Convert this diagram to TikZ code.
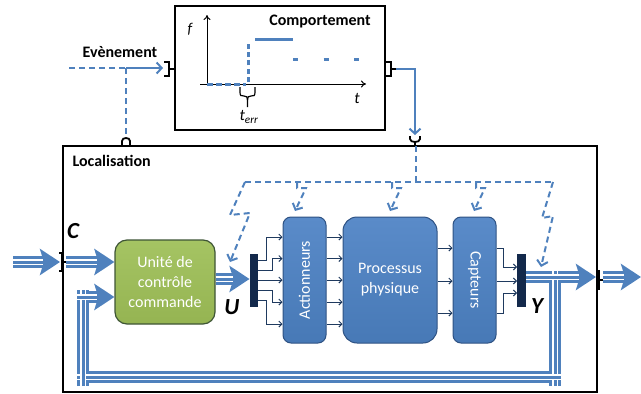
\documentclass[tikz,border=0pt]{standalone}
\usepackage{fontspec}
\setmainfont{Carlito}
\usetikzlibrary{arrows.meta,calc}
\definecolor{lb}{HTML}{4F81BD}
\definecolor{lbtop}{HTML}{5A8BC9}
\definecolor{lbbot}{HTML}{4779B6}
\definecolor{bbord}{HTML}{2E5283}
\definecolor{gtop}{HTML}{A5C463}
\definecolor{gbot}{HTML}{95B452}
\definecolor{gbord}{HTML}{3E5535}
\definecolor{navy}{HTML}{13294B}
\definecolor{thinc}{HTML}{1F3A5F}
\begin{document}
\begin{tikzpicture}[x=1pt,y=-1pt,
  frame/.style={draw=black, line width=1.5pt},
  bbox/.style={draw=bbord, line width=1pt, top color=lbtop, bottom color=lbbot, text=white,
     font=\fontsize{16}{20}\selectfont, align=center, inner sep=0pt},
  gbox/.style={draw=gbord, line width=1.2pt, top color=gtop, bottom color=gbot, text=white,
     font=\fontsize{16}{20}\selectfont, align=center, rounded corners=12pt,
     minimum width=100pt, minimum height=84pt, inner sep=0pt},
  bar/.style={fill=navy, draw=none, minimum width=8.5pt, minimum height=53pt, inner sep=0pt},
  tri/.style={draw=lb, line width=12pt},
  triw/.style={draw=white, line width=1.5pt, double=lb, double distance=3pt},
  trih/.style={-{Stealth[length=20pt,width=26pt,inset=4pt]}},
  dsh/.style={draw=lb, line width=2pt, dash pattern=on 6pt off 4pt},
  va/.style={-{Straight Barb[length=5pt,width=11pt]}},
  thinar/.style={draw=thinc, line width=1pt, -{Straight Barb[length=3pt,width=6pt]}},
  port/.style={draw=black, line width=1.8pt},
  lbl/.style={font=\bfseries\fontsize{16}{19}\selectfont},
  big/.style={font=\bfseries\itshape\fontsize{23}{26}\selectfont},
  gr/.style={draw=lb, line width=3pt}
]
\useasboundingbox (0,0) rectangle (641,394);

% ---------------- frames ----------------
\node[frame, minimum width=210pt, minimum height=124pt, inner sep=0pt] (comp) at (280,68) {};
\node[frame, minimum width=534pt, minimum height=246pt, inner sep=0pt] (loc) at (330,269) {};
\node[lbl] (comptxt) at (320,22) {Comportement};
\node[lbl] (evt) at (120,52) {Evènement};
\node[lbl, anchor=west] (loctxt) at (69,161) {Localisation};

% ---------------- graph ----------------
\coordinate (o) at (207,84);
\coordinate (xend) at (366,84);
\coordinate (yend) at (207,15);
\draw[line width=1pt, -{To[length=5pt,width=7pt]}] (200,84) -- (xend);
\draw[line width=1pt, -{To[length=5pt,width=7pt]}] (207,86) -- (yend);
\node[font=\itshape\fontsize{15}{18}\selectfont] (flab) at (190,29) {f};
\node[font=\itshape\fontsize{16}{18}\selectfont] (tlab) at (357,98) {t};
\draw[gr, dash pattern=on 6pt off 3pt] (207,84) -- (246,84);
\draw[gr, dash pattern=on 5pt off 3.3pt] (248.5,82) -- (248.5,42);
\draw[gr] (255,39) -- (293,39);
\draw[gr, dash pattern=on 5pt off 25.5pt] (293,59) -- (362,59);
\draw[line width=1.2pt] (240,87) -- (240,92) .. controls (240,96) and (241,96) .. (244,96)
   .. controls (247,96) and (247.5,97) .. (247.5,100) -- (247.5,107);
\draw[line width=1.2pt] (255,87) -- (255,92) .. controls (255,96) and (254,96) .. (251,96)
   .. controls (248,96) and (247.5,97) .. (247.5,100);
\node[font=\itshape\fontsize{16}{18}\selectfont] (terr) at (249,117) {t\textsubscript{err}};

% ---------------- Evènement input ----------------
\coordinate (evs) at (69,68);
\coordinate (evj) at (126,68);
\coordinate (evt1) at (163,68);
\coordinate (lpt) at (126,137);
\draw[dsh] (evs) -- (evj);
\draw[draw=lb, line width=2pt, va] (evj) -- (evt1);
\draw[dsh] (evj) -- (lpt);
\draw[port] (164,62) -- (169,62) -- (169,76) -- (164,76);
\draw[port] (169,69) -- (comp.west |- 0,69);
\draw[port] (122,146) -- (122,141) .. controls (122,137) and (130,137) .. (130,141) -- (130,146);

% ---------------- Comportement output ----------------
\draw[port] (comp.east |- 0,62) -- (391,62) -- (391,76) -- (comp.east |- 0,76);
\draw[port] (391,69) -- (396,69);
\coordinate (cr1) at (396,69);
\coordinate (cr2) at (415,69);
\coordinate (cr3) at (415,135);
\draw[draw=lb, line width=2pt, va] (cr1) -- (cr2) -- (cr3);
\draw[port] (410,136) -- (410,139) .. controls (410,143) and (420,143) .. (420,139) -- (420,136);
\draw[port] (415,142) -- (415,146);

% ---------------- blocks ----------------
\node[gbox] (ucc) at (165,282) {Unité de\\contrôle\\commande};
\node[bbox, rounded corners=8pt, minimum width=43pt, minimum height=126pt] (act) at (304.5,280) {\rotatebox{90}{Actionneurs}};
\node[bbox, rounded corners=14pt, minimum width=94pt, minimum height=126pt] (proc) at (390,280) {Processus\\physique};
\node[bbox, rounded corners=8pt, minimum width=43pt, minimum height=126pt] (capt) at (474.5,280) {\rotatebox{-90}{Capteurs}};
\node[bar] (ubar) at (254,280.5) {};
\node[bar] (ybar) at (521.5,280.5) {};
\node[big] (clab) at (73,231) {C};
\node[big] (ulab) at (232,307) {U};
\node[big] (ylab) at (537,306) {Y};

% ---------------- thin arrows ----------------
\draw[thinar] (ubar.east |- 0,260) -| (266,237) -- (act.west |- 0,237);
\draw[thinar] (ubar.east |- 0,270) -| (272,258.5) -- (act.west |- 0,258.5);
\draw[thinar] (ubar.east |- 0,280) -- (act.west |- 0,280);
\draw[thinar] (ubar.east |- 0,290) -| (272,302) -- (act.west |- 0,302);
\draw[thinar] (ubar.east |- 0,300) -| (266,324) -- (act.west |- 0,324);
\foreach \yy in {237,258.5,280,302,324}{
  \draw[thinar] (act.east |- 0,\yy) -- (proc.west |- 0,\yy);
}
\foreach \yy in {248,281,313}{
  \draw[thinar] (proc.east |- 0,\yy) -- (capt.west |- 0,\yy);
}
\draw[thinar] (capt.east |- 0,248) -| (503,267) -- (ybar.west |- 0,267);
\draw[thinar] (capt.east |- 0,281) -- (ybar.west |- 0,281);
\draw[thinar] (capt.east |- 0,313) -| (503,293) -- (ybar.west |- 0,293);

% ---------------- disturbance dashed arrows ----------------
\coordinate (dtop) at (416,146);
\coordinate (dj) at (416,182);
\coordinate (dl) at (245,182);
\coordinate (dr) at (553,182);
\draw[dsh] (dtop) -- (dj);
\draw[dsh] (dl) -- (dr);
\draw[dsh, va] (dl) -- (230,215) -- (250,213) -- (230,262);
\foreach \xx in {297,392,476}{
  \draw[dsh, va] (\xx,182) -- (\xx,188) -- (\xx+9,188) -- (\xx-2,211);
}
\draw[dsh, va] (dr) -- (542,218) -- (553,216) -- (541,267);

% ---------------- triple arrows ----------------
\coordinate (cin0) at (13,262);
\coordinate (cin1) at (60,262);
\coordinate (cin2) at (66,262);
\coordinate (uin) at (ucc.west |- 0,262);
\coordinate (uo0) at (ucc.east |- 0,279);
\coordinate (uo1) at (ubar.west |- 0,279);
\coordinate (yo0) at (ybar.east |- 0,277);
\coordinate (yo1) at (596,277);
\coordinate (yo2) at (603,277);
\coordinate (yo3) at (641,277);
\coordinate (f1) at (555,271);
\coordinate (f2) at (555,386);
\coordinate (f3) at (561,377);
\coordinate (f4) at (77,377);
\coordinate (f5) at (83,386);
\coordinate (f6) at (83,290);
\coordinate (f7) at (77,297);
\coordinate (f8) at (ucc.west |- 0,297);
% bases
\draw[tri] (f1) -- (f2);
\draw[tri] (f3) -- (f4);
\draw[tri] (f5) -- (f6);
\draw[tri,trih] (f7) -- (f8);
\draw[tri,trih] (cin0) -- (cin1);
\draw[tri,trih] (cin2) -- (uin);
\draw[tri,trih] (uo0) -- (uo1);
\draw[tri,trih] (yo0) -- (yo1);
\draw[tri,trih] (yo2) -- (yo3);
% overlays
\draw[triw] (f1) -- (f2);
\draw[triw] (f3) -- (f4);
\draw[triw] (f5) -- (f6);
\draw[triw, shorten >=17pt] (f7) -- (f8);
\draw[triw, shorten >=17pt] (cin0) -- (cin1);
\draw[triw, shorten >=17pt] (cin2) -- (uin);
\draw[triw, shorten >=17pt] (uo0) -- (uo1);
\draw[triw, shorten >=17pt] (yo0) -- (yo1);
\draw[triw, shorten >=17pt] (yo2) -- (yo3);

% ---------------- ports on Localisation ----------------
\draw[port] (59,253) -- (62,253) -- (62,271) -- (59,271);
\draw[port] (62,262) -- (66,262);
\draw[draw=black, line width=3pt] (598.5,270) -- (598.5,290);
\draw[port] (598.5,280) -- (603,280);
\end{tikzpicture}
\end{document}
